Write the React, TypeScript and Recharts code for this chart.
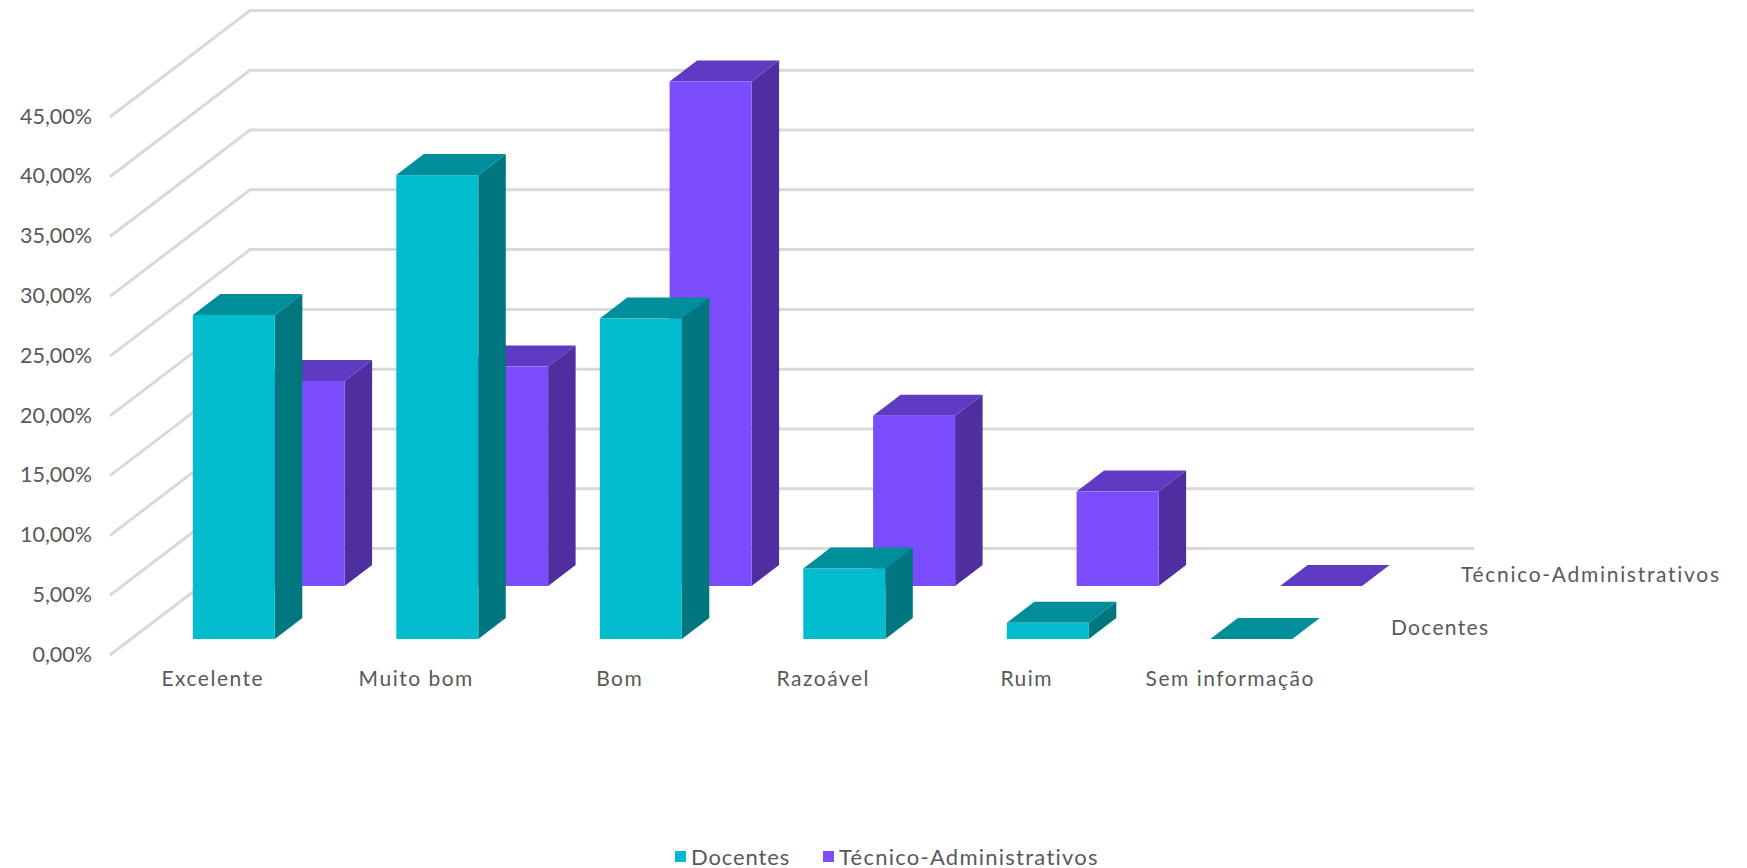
import React from "react";
import { BarChart, Bar, XAxis, YAxis, CartesianGrid, Legend, Customized } from "recharts";

const categories = ["Excelente", "Muito bom", "Bom", "Razoável", "Ruim", "Sem informação"];
const docentes = [27.1, 38.8, 26.8, 5.9, 1.35, 0];
const tecnicos = [17.15, 18.35, 42.2, 14.25, 7.9, 0];
const yTicks = [0, 5, 10, 15, 20, 25, 30, 35, 40, 45];
const seriesNames = ["Docentes", "Técnico-Administrativos"];

const data = categories.map((name, i) => ({ name, docentes: docentes[i], tecnicos: tecnicos[i] }));

const FONT = "Lato, 'Noto Sans', sans-serif";
const TEXT = "#595959";
const GRID = "#D9D9D9";
const DEPTH_X = 27.5;
const DEPTH_Y = 21;

const makeShape = (dx: number, dy: number, front: string, top: string, side: string) => (props: any) => {
  const x = props.x + dx;
  const y = props.y + dy;
  const w = props.width;
  const h = props.height;
  return (
    <g>
      <polygon
        points={`${x + w},${y} ${x + w + DEPTH_X},${y - DEPTH_Y} ${x + w + DEPTH_X},${y + h - DEPTH_Y} ${x + w},${y + h}`}
        fill={side}
      />
      <polygon
        points={`${x},${y} ${x + DEPTH_X},${y - DEPTH_Y} ${x + w + DEPTH_X},${y - DEPTH_Y} ${x + w},${y}`}
        fill={top}
      />
      <rect x={x} y={y} width={w} height={h} fill={front} />
    </g>
  );
};

const gridLine = (props: any) => {
  const { x1, x2, y1, key } = props;
  return (
    <polyline
      key={key ?? y1}
      points={`${x1 - 1},${y1} ${x1 + 139},${y1 - 106.5} ${x2 + 142},${y1 - 106.5}`}
      fill="none"
      stroke={GRID}
      strokeWidth={3}
    />
  );
};

const DepthLabels = () => (
  <g fontFamily={FONT} fontSize={21} fill={TEXT}>
    <text x={1391} y={626.5} letterSpacing={1.3} dominantBaseline="central">{seriesNames[0]}</text>
    <text x={1461} y={573.5} letterSpacing={1.7} dominantBaseline="central">{seriesNames[1]}</text>
  </g>
);

const LegendContent = () => {
  const colors = ["#00BCCD", "#7C4DFF"];
  const xs = [675, 823];
  return (
    <div style={{ position: "relative", width: 1747, height: 30 }}>
      {seriesNames.map((n, i) => (
        <div key={n} style={{ position: "absolute", left: xs[i], top: -1, display: "flex", alignItems: "center", height: 30, fontFamily: FONT, fontSize: 22, letterSpacing: i === 0 ? 0.9 : 1.25, color: TEXT, whiteSpace: "nowrap" }}>
          <span style={{ display: "inline-block", width: 11, height: 11, background: colors[i], marginRight: 5 }} />
          {n}
        </div>
      ))}
    </div>
  );
};

export default function App() {
  return (
    <div style={{ position: "absolute", left: 0, top: 0, width: 1747, height: 868, background: "#fff" }}>
      <BarChart
        width={1747}
        height={868}
        data={data}
        barSize={82}
        barGap={-82}
        margin={{ top: 117, right: 415, bottom: 0, left: 0 }}
      >
        <CartesianGrid vertical={false} horizontal={gridLine} syncWithTicks />
        <XAxis
          dataKey="name"
          interval={0}
          height={183}
          tickLine={false}
          axisLine={false}
          tickMargin={10}
          tick={{ fontFamily: FONT, fontSize: 21, fill: TEXT, letterSpacing: 1.5 }}
        />
        <YAxis
          width={111}
          domain={[0, 45]}
          ticks={yTicks}
          interval={0}
          tickLine={false}
          axisLine={false}
          tickSize={0}
          tickMargin={19}
          tickFormatter={(v: number) => v.toFixed(2).replace(".", ",") + "%"}
          tick={{ fontFamily: FONT, fontSize: 21.5, fill: TEXT, dy: -1 }}
        />
        <Bar
          dataKey="tecnicos"
          name={seriesNames[1]}
          fill="#7C4DFF"
          isAnimationActive={false}
          shape={makeShape(90.6, -69, "#7C4DFF", "#5E3BC2", "#4F2F9F")}
        />
        <Bar
          dataKey="docentes"
          name={seriesNames[0]}
          fill="#00BCCD"
          isAnimationActive={false}
          shape={makeShape(20.8, -16, "#00BCCD", "#008E9A", "#00777F")}
        />
        <Customized component={DepthLabels} />
        <Legend
          content={<LegendContent />}
          verticalAlign="bottom"
          wrapperStyle={{ position: "absolute", left: 0, top: 842, width: 1747, height: 30 }}
        />
      </BarChart>
    </div>
  );
}
